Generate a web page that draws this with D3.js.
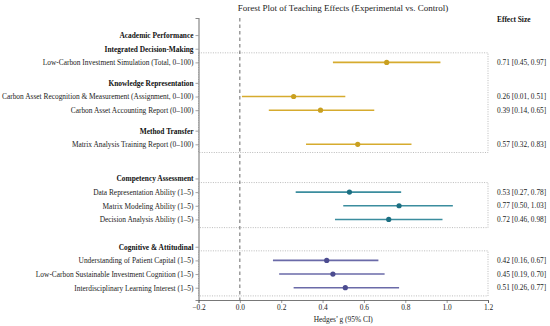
<!DOCTYPE html>
<html>
<head>
    <meta charset="utf-8" />
    <title>Forest Plot</title>
    <script src="https://cdn.jsdelivr.net/npm/d3@7"></script>
    <style>
        body { margin: 0; background: #fff; }
        svg { font-family: "Liberation Serif", "Times New Roman", serif; }
        .lab { font-size: 7.4px; fill: #222; }
        .hdr { font-size: 7.4px; font-weight: bold; fill: #111; }
    </style>
</head>
<body>
<svg width="550" height="326"></svg>
<script>
// rows of the plot, top to bottom; level 0 = section, 1 = subsection, 2 = outcome
var labels = [
    "Academic Performance",
    "Integrated Decision-Making",
    "Low-Carbon Investment Simulation (Total, 0\u2013100)",
    "Knowledge Representation",
    "Carbon Asset Recognition & Measurement (Assignment, 0\u2013100)",
    "Carbon Asset Accounting Report (0\u2013100)",
    "Method Transfer",
    "Matrix Analysis Training Report (0\u2013100)",
    "Competency Assessment",
    "Data Representation Ability (1\u20135)",
    "Matrix Modeling Ability (1\u20135)",
    "Decision Analysis Ability (1\u20135)",
    "Cognitive & Attitudinal",
    "Understanding of Patient Capital (1\u20135)",
    "Low-Carbon Sustainable Investment Cognition (1\u20135)",
    "Interdisciplinary Learning Interest (1\u20135)"
];
var levels = [0, 1, 2, 1, 2, 2, 1, 2, 0, 2, 2, 2, 0, 2, 2, 2];
var section = [0, 0, 0, 0, 0, 0, 0, 0, 1, 1, 1, 1, 2, 2, 2, 2];
// Hedges' g with 95% CI (null for header rows)
var g     = [null, null, 0.71, null, 0.26, 0.39, null, 0.57, null, 0.53, 0.77, 0.72, null, 0.42, 0.45, 0.51];
var lower = [null, null, 0.45, null, 0.01, 0.14, null, 0.32, null, 0.27, 0.50, 0.46, null, 0.16, 0.19, 0.26];
var upper = [null, null, 0.97, null, 0.51, 0.65, null, 0.83, null, 0.78, 1.03, 0.98, null, 0.67, 0.70, 0.77];
var xTicks = [-0.2, 0.0, 0.2, 0.4, 0.6, 0.8, 1.0, 1.2];

var lineColors = ["#d6ab2e", "#3b8d9e", "#6a6aa8"];
var dotColors  = ["#c9a020", "#1c6f82", "#4c4c90"];

var svg = d3.select("svg");
var pLeft = 198.5, pRight = 488, pTop = 18, pBottom = 300;

// y index of each row: subsection headers get a half-row gap, sections a bigger one
var sectionGap = [0, 2.5, 2];
var ypos = [], cur = 0;
labels.forEach(function (d, i) {
    if (i === 0) cur = 0;
    else if (levels[i] === 0) cur += sectionGap[section[i]];
    else if (levels[i] === 1 && levels[i - 1] !== 0) cur += 1.5;
    else cur += 1;
    ypos.push(cur);
});

var x = d3.scaleLinear().domain([-0.2, 1.2]).range([pLeft, pRight]);
var y = d3.scaleLinear().domain([-1.25, 19.4]).range([pTop, pBottom]);

// dotted boxes around each section's outcomes
[0, 1, 2].forEach(function (s) {
    var idx = d3.range(labels.length).filter(function (i) { return section[i] === s && levels[i] === 2; });
    var y0 = y(ypos[idx[0]] - 0.7), y1 = y(ypos[idx[idx.length - 1]] + 0.6);
    svg.append("rect")
        .attr("x", x(-0.2)).attr("y", y0)
        .attr("width", x(1.2) - x(-0.2)).attr("height", y1 - y0)
        .attr("fill", "none").attr("stroke", "#aaa")
        .attr("stroke-width", 0.8).attr("stroke-dasharray", "1,1.4");
});

// reference line at 0
svg.append("line")
    .attr("x1", x(0)).attr("x2", x(0)).attr("y1", pTop).attr("y2", pBottom)
    .attr("stroke", "#444").attr("stroke-width", 0.8).attr("stroke-dasharray", "3.5,3");

// y axis with row labels
var yAxis = d3.axisLeft(y).tickValues(ypos).tickSize(3)
    .tickFormat(function (d, i) { return labels[i]; });
var ya = svg.append("g").attr("transform", "translate(" + pLeft + ",0)").call(yAxis);
ya.attr("font-size", null).attr("font-family", null);
ya.select(".domain").attr("stroke", "#888").attr("stroke-width", 1.2);
ya.selectAll(".tick line").attr("stroke", "#666").attr("stroke-width", 0.6);
ya.selectAll(".tick text")
    .attr("x", -5)
    .attr("class", function (d, i) { return levels[i] < 2 ? "hdr" : "lab"; });

// x axis
var xAxis = d3.axisBottom(x).tickValues(xTicks).tickSize(3).tickFormat(d3.format(".1f"));
var xa = svg.append("g").attr("transform", "translate(0," + pBottom + ")").call(xAxis);
xa.attr("font-size", null).attr("font-family", null);
xa.select(".domain").attr("stroke", "#555").attr("stroke-width", 0.8);
xa.selectAll(".tick line").attr("stroke", "#555").attr("stroke-width", 0.6);
xa.selectAll(".tick text").attr("class", "lab").attr("dy", "0.71em").attr("y", 5)
    .text(function (d) { return d3.format(".1f")(d).replace("-", "\u2212"); });

// CI lines and points
var items = d3.range(labels.length).filter(function (i) { return levels[i] === 2; });
svg.selectAll(".ci").data(items).enter().append("line")
    .attr("x1", function (i) { return x(lower[i]); })
    .attr("x2", function (i) { return x(upper[i]); })
    .attr("y1", function (i) { return y(ypos[i]); })
    .attr("y2", function (i) { return y(ypos[i]); })
    .attr("stroke", function (i) { return lineColors[section[i]]; })
    .attr("stroke-width", 1.6);
svg.selectAll(".pt").data(items).enter().append("circle")
    .attr("cx", function (i) { return x(g[i]); })
    .attr("cy", function (i) { return y(ypos[i]); })
    .attr("r", 2.6)
    .attr("fill", function (i) { return dotColors[section[i]]; });

// effect size column
svg.append("text").attr("x", 497).attr("y", 19).attr("dy", "0.35em")
    .attr("class", "hdr").text("Effect Size");
svg.selectAll(".es").data(items).enter().append("text")
    .attr("class", "lab")
    .attr("x", 497)
    .attr("y", function (i) { return y(ypos[i]); })
    .attr("dy", "0.35em")
    .text(function (i) { return g[i].toFixed(2) + " [" + lower[i].toFixed(2) + ", " + upper[i].toFixed(2) + "]"; });

// title and x label
svg.append("text").attr("x", 343).attr("y", 8).attr("dy", "0.35em")
    .attr("text-anchor", "middle").attr("font-size", "9px").attr("fill", "#222")
    .text("Forest Plot of Teaching Effects (Experimental vs. Control)");
svg.append("text").attr("x", x(0.5)).attr("y", 319).attr("dy", "0.35em")
    .attr("text-anchor", "middle").attr("class", "lab")
    .text("Hedges\u2019 g (95% CI)");
</script>
</body>
</html>
